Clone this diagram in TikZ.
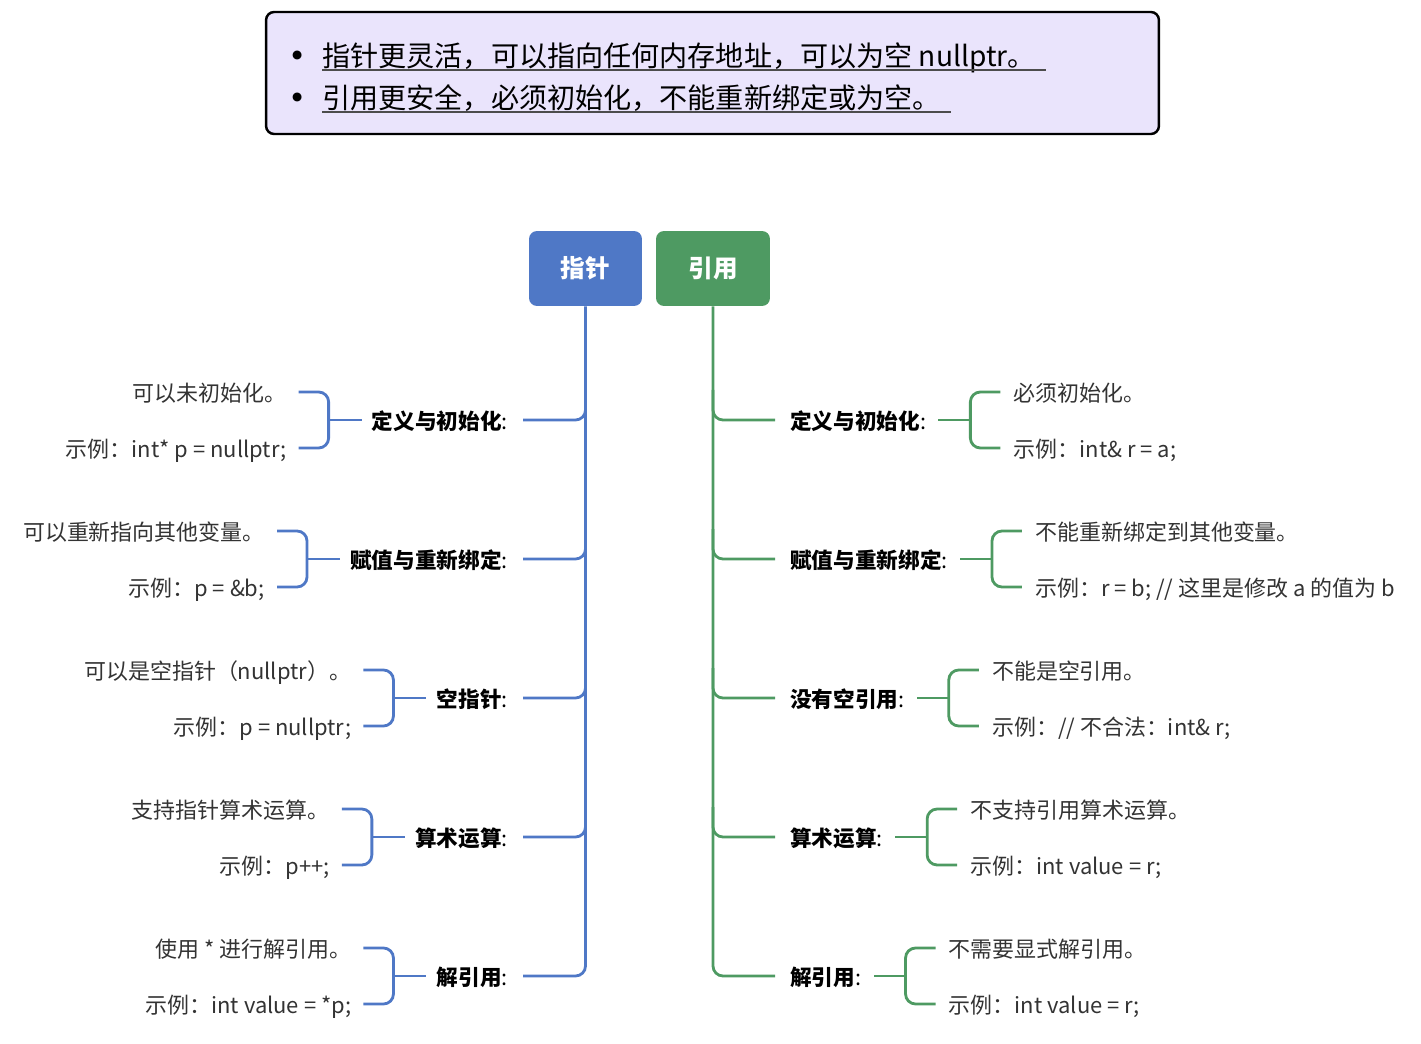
\documentclass[tikz,border=0pt]{standalone}
\usepackage{fontspec}
\setmainfont{Noto Sans CJK SC}
\usetikzlibrary{positioning,calc}
\definecolor{ptrblue}{HTML}{4F78C6}
\definecolor{refgreen}{HTML}{4E9A62}
\definecolor{notebg}{HTML}{EAE4FC}
\definecolor{leafgray}{HTML}{333333}

\begin{document}
\begin{tikzpicture}[x=0.02cm,y=-0.02cm,
	head/.style={rounded corners=1.6mm,minimum height=1.5cm,text=white,font=\fontsize{14}{16}\selectfont\bfseries},
	topic/.style={inner sep=0,text height=1.1em,text depth=0.05em,font=\fontsize{12.3}{14}\selectfont\bfseries},
	leaf/.style={inner sep=0,text height=1.1em,text depth=0.05em,text=leafgray,font=\fontsize{12.5}{14}\selectfont},
	notetext/.style={inner sep=0,text height=0.8em,text depth=0.2em,font=\fontsize{16}{18}\selectfont},
	bline/.style={draw=ptrblue,line width=1.6pt,rounded corners=2mm},
	gline/.style={draw=refgreen,line width=1.6pt,rounded corners=2mm}]

	\useasboundingbox (0,0) rectangle (1421,1044);

	% summary box
	\node[draw,line width=1.4pt,rounded corners=1.6mm,fill=notebg,minimum width=17.86cm,minimum height=2.44cm] (note) at (712.5,73) {};
	\node[notetext,anchor=west] (sum1) at (322,61) {指针更灵活，可以指向任何内存地址，可以为空 nullptr。};
	\node[notetext,anchor=west] (sum2) at (322,103) {引用更安全，必须初始化，不能重新绑定或为空。};
	\node[inner sep=0,font=\fontsize{24}{24}\selectfont] (dot1) at (298,61) {•};
	\node[inner sep=0,font=\fontsize{24}{24}\selectfont] (dot2) at (298,103) {•};
	\draw[line width=0.8pt,black!70] (sum1.south west) -- ([xshift=0.2cm]sum1.south east);
	\draw[line width=0.8pt,black!70] (sum2.south west) -- ([xshift=0.2cm]sum2.south east);

	% heads
	\node[head,fill=ptrblue,minimum width=2.26cm] (ptr) at (585.5,268.5) {指针};
	\node[head,fill=refgreen,minimum width=2.28cm] (ref) at (713,268.5) {引用};

	% pointer side
	\node[topic,anchor=east] (pl1) at (508,420) {定义与初始化{\mdseries:}};
	\node[topic,anchor=east] (pl2) at (508,559) {赋值与重新绑定{\mdseries:}};
	\node[topic,anchor=east] (pl3) at (508,698) {空指针{\mdseries:}};
	\node[topic,anchor=east] (pl4) at (508,837) {算术运算{\mdseries:}};
	\node[topic,anchor=east] (pl5) at (508,976) {解引用{\mdseries:}};

	\node[leaf,anchor=east] (pl1a) at ($(pl1.west)+(-85,-28)$) {可以未初始化。};
	\node[leaf,anchor=east] (pl1b) at ($(pl1.west)+(-85,28)$) {示例：int* p = nullptr;};
	\node[leaf,anchor=east] (pl2a) at ($(pl2.west)+(-85,-28)$) {可以重新指向其他变量。};
	\node[leaf,anchor=east] (pl2b) at ($(pl2.west)+(-85,28)$) {示例：p = \&b;};
	\node[leaf,anchor=east] (pl3a) at ($(pl3.west)+(-85,-28)$) {可以是空指针（nullptr）。};
	\node[leaf,anchor=east] (pl3b) at ($(pl3.west)+(-85,28)$) {示例：p = nullptr;};
	\node[leaf,anchor=east] (pl4a) at ($(pl4.west)+(-85,-28)$) {支持指针算术运算。};
	\node[leaf,anchor=east] (pl4b) at ($(pl4.west)+(-85,28)$) {示例：p++;};
	\node[leaf,anchor=east] (pl5a) at ($(pl5.west)+(-85,-28)$) {使用 * 进行解引用。};
	\node[leaf,anchor=east] (pl5b) at ($(pl5.west)+(-85,28)$) {示例：int value = *p;};

	\draw[bline] (ptr.south) |- ($(pl5.east)+(15,0)$);
	\foreach \t in {pl1,pl2,pl3,pl4}
		\draw[bline] ($(\t.east)+(15,0)$) -| ($(ptr.south |- \t.east)+(0,-30)$);
	\foreach \t in {pl1,pl2,pl3,pl4,pl5} {
		\draw[bline] ($(\t a.east)+(12,0)$) -| ($(\t.west)+(-43,0)$) |- ($(\t b.east)+(12,0)$);
		\draw[bline] ($(\t.west)+(-43,0)$) -- ($(\t.west)+(-10,0)$);
	}

	% reference side
	\node[topic,anchor=west] (rl1) at (790,420) {定义与初始化{\mdseries:}};
	\node[topic,anchor=west] (rl2) at (790,559) {赋值与重新绑定{\mdseries:}};
	\node[topic,anchor=west] (rl3) at (790,698) {没有空引用{\mdseries:}};
	\node[topic,anchor=west] (rl4) at (790,837) {算术运算{\mdseries:}};
	\node[topic,anchor=west] (rl5) at (790,976) {解引用{\mdseries:}};

	\node[leaf,anchor=west] (rl1a) at ($(rl1.east)+(87,-28)$) {必须初始化。};
	\node[leaf,anchor=west] (rl1b) at ($(rl1.east)+(87,28)$) {示例：int\& r = a;};
	\node[leaf,anchor=west] (rl2a) at ($(rl2.east)+(87,-28)$) {不能重新绑定到其他变量。};
	\node[leaf,anchor=west] (rl2b) at ($(rl2.east)+(87,28)$) {示例：r = b; // 这里是修改 a 的值为 b};
	\node[leaf,anchor=west] (rl3a) at ($(rl3.east)+(87,-28)$) {不能是空引用。};
	\node[leaf,anchor=west] (rl3b) at ($(rl3.east)+(87,28)$) {示例：// 不合法：int\& r;};
	\node[leaf,anchor=west] (rl4a) at ($(rl4.east)+(87,-28)$) {不支持引用算术运算。};
	\node[leaf,anchor=west] (rl4b) at ($(rl4.east)+(87,28)$) {示例：int value = r;};
	\node[leaf,anchor=west] (rl5a) at ($(rl5.east)+(87,-28)$) {不需要显式解引用。};
	\node[leaf,anchor=west] (rl5b) at ($(rl5.east)+(87,28)$) {示例：int value = r;};

	\draw[gline] (ref.south) |- ($(rl5.west)+(-15,0)$);
	\foreach \t in {rl1,rl2,rl3,rl4}
		\draw[gline] ($(\t.west)+(-15,0)$) -| ($(ref.south |- \t.west)+(0,-30)$);
	\foreach \t in {rl1,rl2,rl3,rl4,rl5} {
		\draw[gline] ($(\t a.west)+(-13,0)$) -| ($(\t.east)+(44,0)$) |- ($(\t b.west)+(-13,0)$);
		\draw[gline] ($(\t.east)+(44,0)$) -- ($(\t.east)+(12,0)$);
	}

\end{tikzpicture}
\end{document}
